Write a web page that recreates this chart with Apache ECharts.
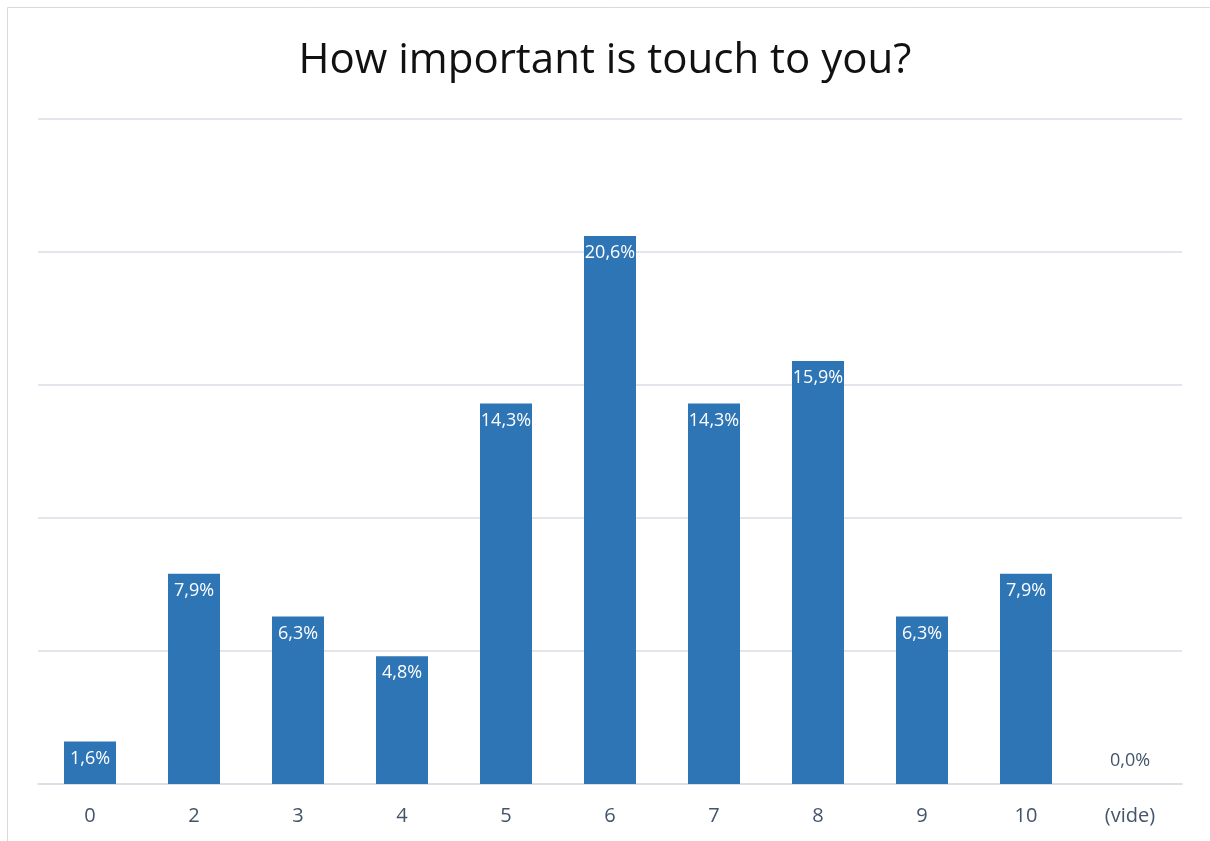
<!DOCTYPE html>
<html>
<head>
<meta charset="utf-8">
<style>
  html, body { margin: 0; padding: 0; background: #ffffff; }
  #chart { width: 1210px; height: 841px; }
</style>
<script src="https://cdn.jsdelivr.net/npm/echarts@6/dist/echarts.min.js"></script>
</head>
<body>
<div id="chart"></div>
<script>
// Survey answers: share of respondents per score (percent)
const categories = ['0', '2', '3', '4', '5', '6', '7', '8', '9', '10', '(vide)'];
const shares = [1.6, 7.9, 6.3, 4.8, 14.3, 20.6, 14.3, 15.9, 6.3, 7.9, 0.0];
const titleText = 'How important is touch to you?';

const fmt = v => v.toFixed(1).replace('.', ',') + '%';

const chart = echarts.init(document.getElementById('chart'), null, { renderer: 'canvas' });

// Empty bars get their label above the baseline in the axis text colour
const seriesData = shares.map(v => {
  if (v === 0) {
    return {
      value: v,
      label: { position: 'top', distance: 14, color: '#44546A' }
    };
  }
  return v;
});

chart.setOption({
  animation: false,
  backgroundColor: '#ffffff',
  graphic: [{
    type: 'rect',
    shape: { x: 7.5, y: 7.5, width: 1220, height: 850 },
    style: { fill: 'none', stroke: '#D9D9D9', lineWidth: 1 },
    silent: true
  }],
  title: {
    text: titleText,
    left: 'center',
    top: 35,
    textStyle: {
      fontFamily: 'Open Sans',
      fontSize: 42,
      fontWeight: 'normal',
      color: '#111111'
    }
  },
  grid: { left: 38, right: 28, top: 119, bottom: 57 },
  xAxis: {
    type: 'category',
    data: categories,
    axisTick: { show: false },
    axisLine: { show: true, lineStyle: { color: '#D9DDE6', width: 1.5 } },
    axisLabel: {
      color: '#44546A',
      fontFamily: 'Open Sans',
      fontSize: 20,
      margin: 22
    }
  },
  yAxis: {
    type: 'value',
    min: 0,
    max: 25,
    interval: 5,
    axisLabel: { show: false },
    axisLine: { show: false },
    axisTick: { show: false },
    splitLine: { lineStyle: { color: '#D9DDE6', width: 1.5 } }
  },
  series: [{
    type: 'bar',
    data: seriesData,
    barWidth: '50%',
    itemStyle: { color: '#2E75B6' },
    label: {
      show: true,
      position: 'insideTop',
      distance: 8,
      color: '#ffffff',
      fontFamily: 'Open Sans',
      fontSize: 18,
      formatter: p => fmt(p.value)
    }
  }]
});
</script>
</body>
</html>
